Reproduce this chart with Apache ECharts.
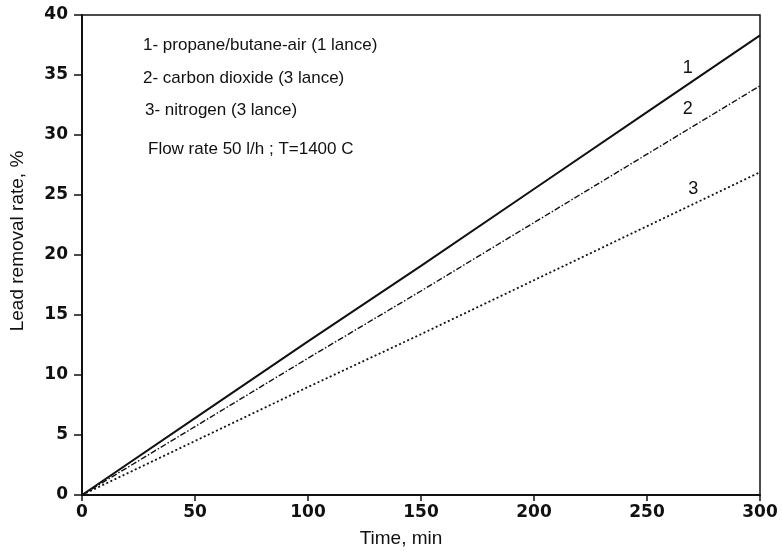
<!DOCTYPE html>
<html>
<head>
<meta charset="utf-8">
<script src="https://cdn.jsdelivr.net/npm/echarts@6/dist/echarts.min.js"></script>
<style>html,body{margin:0;padding:0;background:#fff;}#c{width:782px;height:553px;}</style>
</head>
<body>
<div id="c"></div>
<script>
const timeMin = [0, 50, 100, 150, 200, 250, 300];
const propaneAir = [0, 6.4, 12.8, 19.1, 25.5, 31.9, 38.3];
const carbonDioxide = [0, 5.7, 11.4, 17.0, 22.7, 28.4, 34.1];
const nitrogen = [0, 4.5, 9.0, 13.4, 17.9, 22.4, 26.9];
const curveLabels = [
  { name: '1', coord: [268, 35.6] },
  { name: '2', coord: [268, 32.2] },
  { name: '3', coord: [270.5, 25.5] }
];
const notes = [
  '1- propane/butane-air (1 lance)',
  '2- carbon dioxide (3 lance)',
  '3- nitrogen (3 lance)',
  'Flow rate 50 l/h ; T=1400 C'
];

function pairs(ys) { return timeMin.map((t, i) => [t, ys[i]]); }
const FONT = 'Liberation Sans, Arial, sans-serif';
const TICKFONT = 'DejaVu Sans, sans-serif';

const chart = echarts.init(document.getElementById('c'));
function labelMark(item) {
  return {
    symbol: 'circle', symbolSize: 0, silent: true,
    data: [{ coord: item.coord, label: { show: true, formatter: item.name, position: 'inside', color: '#111', fontSize: 18, fontFamily: FONT } }]
  };
}
chart.setOption({
  backgroundColor: '#fff',
  animation: false,
  grid: { left: 81, right: 22, top: 15, bottom: 57, show: true, borderColor: '#111', borderWidth: 1.5, backgroundColor: 'transparent' },
  xAxis: {
    type: 'value', min: 0, max: 300, interval: 50,
    name: 'Time, min', nameLocation: 'middle', nameGap: 34,
    nameTextStyle: { fontSize: 19, color: '#111', fontFamily: FONT, padding: [0, 40, 0, 0] },
    axisLine: { show: true, lineStyle: { color: '#111', width: 2 } },
    axisTick: { show: true, length: 6, lineStyle: { color: '#111', width: 1.5 } },
    axisLabel: { fontSize: 17, fontWeight: 'bold', color: '#111', fontFamily: TICKFONT, margin: 9 },
    splitLine: { show: false }
  },
  yAxis: {
    type: 'value', min: 0, max: 40, interval: 5,
    name: 'Lead removal rate, %', nameLocation: 'middle', nameGap: 55,
    nameTextStyle: { fontSize: 19, color: '#111', fontFamily: FONT, padding: [0, 0, 0, 28] },
    axisLine: { show: true, lineStyle: { color: '#111', width: 2 } },
    axisTick: { show: true, length: 8, lineStyle: { color: '#111', width: 1.5 } },
    axisLabel: { fontSize: 17, fontWeight: 'bold', color: '#111', fontFamily: TICKFONT, margin: 14 },
    splitLine: { show: false }
  },
  graphic: notes.map((t, i) => ({
    type: 'text', x: [143, 143, 145, 148][i], y: [45, 78, 110, 149][i],
    style: { text: t, fontSize: 17, fill: '#111', fontFamily: FONT, verticalAlign: 'middle' }
  })),
  series: [
    { type: 'line', data: pairs(propaneAir), symbol: 'none', lineStyle: { color: '#111', width: 2 }, markPoint: labelMark(curveLabels[0]) },
    { type: 'line', data: pairs(carbonDioxide), symbol: 'none', lineStyle: { color: '#111', width: 1.4, type: [6, 2, 1.5, 2] }, markPoint: labelMark(curveLabels[1]) },
    { type: 'line', data: pairs(nitrogen), symbol: 'none', lineStyle: { color: '#111', width: 1.8, type: [2, 2.5] }, markPoint: labelMark(curveLabels[2]) }
  ]
});
</script>
</body>
</html>
